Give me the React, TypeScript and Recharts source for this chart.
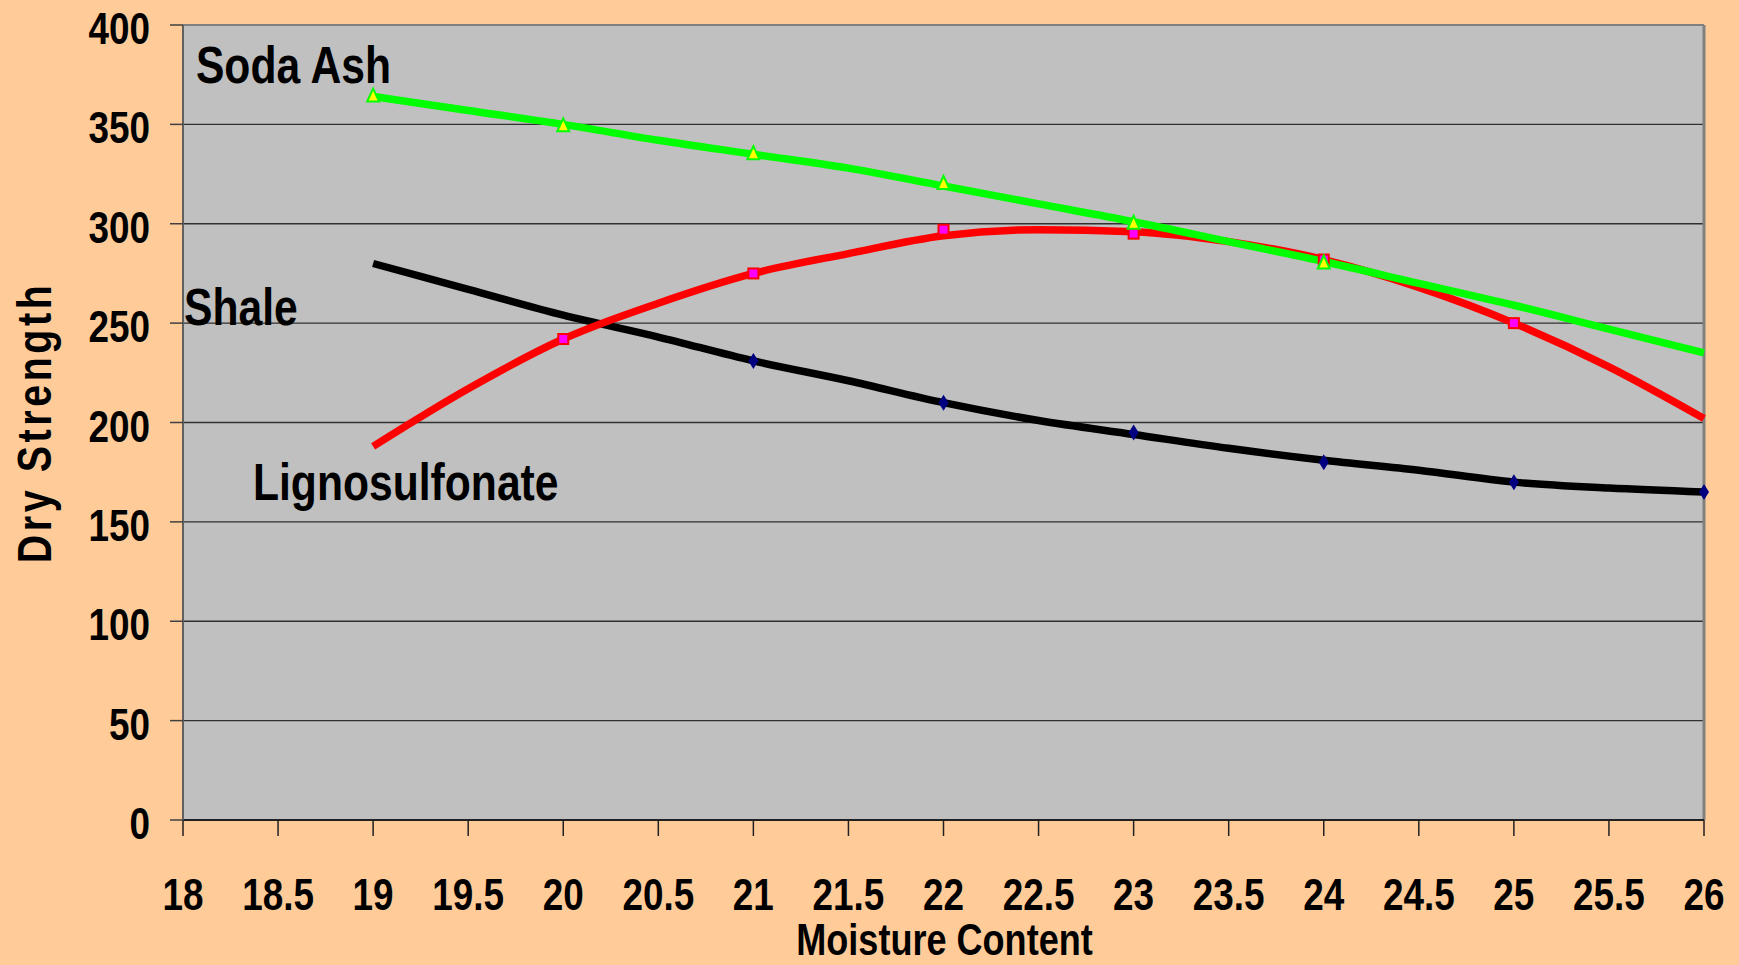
import {
  CartesianGrid,
  ComposedChart,
  Label,
  Line,
  ReferenceDot,
  ReferenceLine,
  Scatter,
  XAxis,
  YAxis,
} from "recharts";

// no narrow font installed, so Liberation Sans Bold gets squeezed horizontally
const FONT = "'Liberation Sans', Arial, sans-serif";
const SQUEEZE = 0.82;
const PEACH = "#FFCC99";
const PLOT_GRAY = "#C0C0C0";
const GREEN = "#00FF00";
const RED = "#FF0000";
const BLACK = "#000000";

// trendline readings
const TREND_X = [19, 19.5, 20, 20.5, 21, 21.5, 22, 22.5, 23, 23.5, 24, 24.5, 25, 25.5, 26];
const SODA_TREND = [364, 357, 350, 342, 335, 328, 319, 310, 301, 291, 281, 270, 259, 247, 235];
const LIGNO_TREND = [188, 217, 242, 260, 275, 285, 294, 297, 296, 291, 282, 268, 250, 228, 202];
const SHALE_TREND = [280, 267, 254, 243, 231, 221, 210, 201, 194, 187, 181, 176, 170, 167, 165];

// measured points
const SODA_X = [19, 20, 21, 22, 23, 24];
const SODA_Y = [364, 349, 335, 320, 300, 280];
const LIGNO_X = [20, 21, 22, 23, 24, 25];
const LIGNO_Y = [242, 275, 297, 295, 282, 250];
const SHALE_X = [21, 22, 23, 24, 25, 26];
const SHALE_Y = [231, 210, 195, 180, 170, 165];

const X_TICKS = [18, 18.5, 19, 19.5, 20, 20.5, 21, 21.5, 22, 22.5, 23, 23.5, 24, 24.5, 25, 25.5, 26];
const Y_TICKS = [0, 50, 100, 150, 200, 250, 300, 350, 400];

const LABELS = [
  { text: "Soda Ash", x: 18.068, y: 371 },
  { text: "Shale", x: 18.005, y: 249 },
  { text: "Lignosulfonate", x: 18.368, y: 161 },
];

const pairs = (xs: number[], ys: number[]) => xs.map((x, i) => ({ x, y: ys[i] }));

function Narrow(props: {
  x: number;
  y: number;
  size: number;
  anchor?: "start" | "middle" | "end";
  rotate?: number;
  spacing?: number;
  children: any;
}) {
  const { x, y, size, anchor = "start", rotate = 0, spacing = 0, children } = props;
  return (
    <text
      transform={`translate(${x},${y}) rotate(${rotate}) scale(${SQUEEZE},1)`}
      x={0}
      y={0}
      textAnchor={anchor}
      fontSize={size}
      fontWeight={700}
      fontFamily={FONT}
      letterSpacing={spacing}
      fill="#000"
    >
      {children}
    </text>
  );
}

function XTick(p: any) {
  return (
    <Narrow x={p.x} y={p.y + 32} size={45} anchor="middle">
      {p.payload.value}
    </Narrow>
  );
}

function YTick(p: any) {
  return (
    <Narrow x={p.x} y={p.y + 19} size={45} anchor="end">
      {p.payload.value}
    </Narrow>
  );
}

function Triangle(p: any) {
  const { cx, cy } = p;
  return (
    <polygon
      points={`${cx},${cy - 8} ${cx + 6},${cy + 5} ${cx - 6},${cy + 5}`}
      fill="#FFFF00"
      stroke={GREEN}
      strokeWidth={2}
    />
  );
}

function Square(p: any) {
  const { cx, cy } = p;
  return <rect x={cx - 5} y={cy - 5} width={10} height={10} fill="#FF00FF" stroke={RED} strokeWidth={2} />;
}

function Diamond(p: any) {
  const { cx, cy } = p;
  return <polygon points={`${cx},${cy - 8} ${cx + 5},${cy} ${cx},${cy + 8} ${cx - 5},${cy}`} fill="#000080" />;
}

function XTitle(props: any) {
  const { x, y, width } = props.viewBox;
  return (
    <Narrow x={x + width / 2 + 1} y={y + 135} size={44} anchor="middle">
      Moisture Content
    </Narrow>
  );
}

function YTitle(props: any) {
  const { y, height } = props.viewBox;
  return (
    <Narrow x={51} y={y + height / 2} size={48} anchor="middle" rotate={-90} spacing={4.4}>
      Dry Strength
    </Narrow>
  );
}

export default function App() {
  return (
    <div style={{ position: "absolute", left: 0, top: 0, width: 1739, height: 965, background: PEACH }}>
      <ComposedChart width={1739} height={965} margin={{ top: 25, right: 35, bottom: 0, left: 0 }}>
        <CartesianGrid fill={PLOT_GRAY} fillOpacity={1} vertical={false} stroke="#303030" strokeWidth={1.3} />
        <XAxis
          type="number"
          dataKey="x"
          domain={[18, 26]}
          ticks={X_TICKS}
          interval={0}
          height={145}
          tickSize={16}
          tickMargin={42}
          tick={<XTick />}
          axisLine={{ stroke: "#202020", strokeWidth: 2 }}
          tickLine={{ stroke: "#202020", strokeWidth: 1.5 }}
          allowDecimals
        >
          <Label content={XTitle} />
        </XAxis>
        <YAxis
          type="number"
          dataKey="y"
          domain={[0, 400]}
          ticks={Y_TICKS}
          interval={0}
          width={183}
          tickSize={13}
          tickMargin={20}
          tick={<YTick />}
          axisLine={{ stroke: "#606060", strokeWidth: 2 }}
          tickLine={{ stroke: "#404040", strokeWidth: 1.5 }}
        >
          <Label content={YTitle} />
        </YAxis>
        <ReferenceLine y={400} stroke="#808080" strokeWidth={2} />
        <ReferenceLine x={26} stroke="#808080" strokeWidth={3} />

        <Line data={pairs(TREND_X, SHALE_TREND)} dataKey="y" type="monotone" stroke={BLACK} strokeWidth={7.5} dot={false} isAnimationActive={false} />
        <Line data={pairs(TREND_X, LIGNO_TREND)} dataKey="y" type="monotone" stroke={RED} strokeWidth={7.5} dot={false} isAnimationActive={false} />
        <Line data={pairs(TREND_X, SODA_TREND)} dataKey="y" type="monotone" stroke={GREEN} strokeWidth={7.5} dot={false} isAnimationActive={false} />

        <Scatter data={pairs(SHALE_X, SHALE_Y)} dataKey="y" shape={Diamond} isAnimationActive={false} />
        <Scatter data={pairs(LIGNO_X, LIGNO_Y)} dataKey="y" shape={Square} isAnimationActive={false} />
        <Scatter data={pairs(SODA_X, SODA_Y)} dataKey="y" shape={Triangle} isAnimationActive={false} />

        {LABELS.map((l) => (
          <ReferenceDot
            key={l.text}
            x={l.x}
            y={l.y}
            r={1}
            shape={(p: any) => (
              <Narrow x={p.cx} y={p.cy} size={52}>
                {l.text}
              </Narrow>
            )}
          />
        ))}
      </ComposedChart>
    </div>
  );
}
